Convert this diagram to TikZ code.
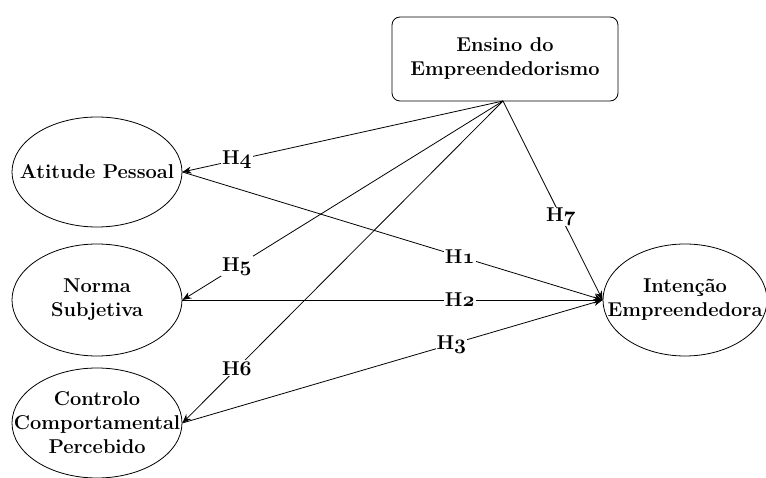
\documentclass[tikz,border=0pt]{standalone}
\usetikzlibrary{arrows.meta,shapes.geometric}
\newcommand{\hyp}[1]{H{\usefont{OML}{cmm}{b}{it}#1}}
\begin{document}
\begin{tikzpicture}[x=1pt,y=-1pt,
  every node/.style={font=\fontsize{20}{24}\selectfont\bfseries},
  construct/.style={draw,ellipse,line width=0.8pt,inner sep=0pt},
  txt/.style={align=center,inner sep=0pt},
  boxnode/.style={draw,rounded corners=8pt,line width=0.8pt,align=center,minimum width=226pt,minimum height=84pt},
  link/.style={line width=0.8pt,-{Stealth[length=9pt,width=7pt]}},
  hlab/.style={fill=white,inner sep=1pt}]
\useasboundingbox (0,0) rectangle (766,478);
\node[boxnode] (ens) at (505,59) {Ensino do\\Empreendedorismo};
\node[construct,minimum width=170pt,minimum height=110pt] (ati) at (97,172) {};
\node[txt] (atit) at (ati) {Atitude Pessoal};
\node[construct,minimum width=170pt,minimum height=112pt] (nor) at (97,300) {};
\node[txt] (nort) at (nor) {Norma\\Subjetiva};
\node[construct,minimum width=170pt,minimum height=110pt] (con) at (97,423) {};
\node[txt] (cont) at (con) {Controlo\\Comportamental\\Percebido};
\node[construct,minimum width=164pt,minimum height=112pt] (int) at (685,300) {};
\node[txt] (intt) at (int) {Intenção\\Empreendedora};
\coordinate (eb) at (503,101);
\draw[link] (eb) -- node[hlab,pos=0.83] {\hyp{4}} (ati.east);
\draw[link] (eb) -- node[hlab,pos=0.83] {\hyp{5}} (nor.east);
\draw[link] (eb) -- node[hlab,pos=0.83] {\hyp{6}} (con.east);
\draw[link] (eb) -- node[hlab,pos=0.58] {\hyp{7}} (int.west);
\draw[link] (ati.east) -- node[hlab,pos=0.66] {\hyp{1}} (int.west);
\draw[link] (nor.east) -- node[hlab,pos=0.66] {\hyp{2}} (int.west);
\draw[link] (con.east) -- node[hlab,pos=0.64] {\hyp{3}} (int.west);
\end{tikzpicture}
\end{document}
